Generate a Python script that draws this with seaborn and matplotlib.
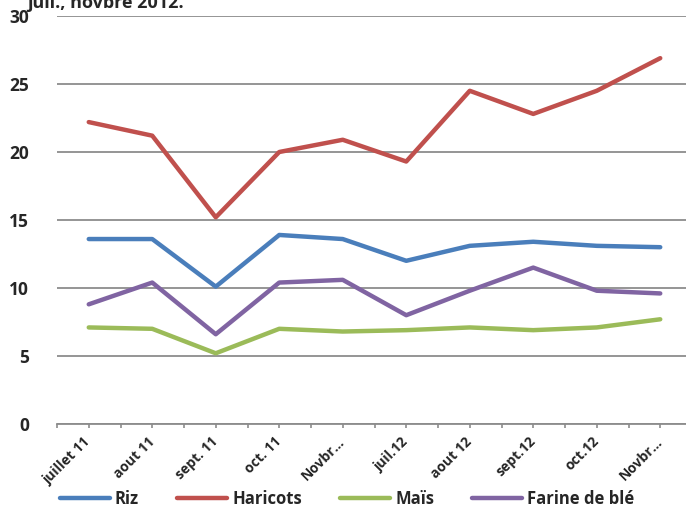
import matplotlib
matplotlib.use("Agg")
from matplotlib import pyplot as plt
from matplotlib.ticker import MultipleLocator
import pandas as pd
import seaborn as sns

months = ['juillet 11', 'aout 11', 'sept. 11', 'oct. 11', 'Novbr...',
          'juil.12', 'aout 12', 'sept.12', 'oct.12', 'Novbr...']
riz = [13.6, 13.6, 10.1, 13.9, 13.6, 12.0, 13.1, 13.4, 13.1, 13.0]
haricots = [22.2, 21.2, 15.2, 20.0, 20.9, 19.3, 24.5, 22.8, 24.5, 26.9]
mais = [7.1, 7.0, 5.2, 7.0, 6.8, 6.9, 7.1, 6.9, 7.1, 7.7]
farine = [8.8, 10.4, 6.6, 10.4, 10.6, 8.0, 9.8, 11.5, 9.8, 9.6]

series = {'Riz': riz, 'Haricots': haricots, 'Maïs': mais, 'Farine de blé': farine}
colors = ['#4A7EBB', '#C0504D', '#9BBB59', '#8064A2']

rows = []
for name, vals in series.items():
    for i, v in enumerate(vals):
        rows.append([i, name, v])
df = pd.DataFrame(rows, columns=['pos', 'produit', 'prix'])

sns.set_style('white')
plt.rcParams['font.family'] = ['Open Sans', 'DejaVu Sans']
plt.rcParams['font.weight'] = 'bold'

fig = plt.figure(figsize=(6.86, 5.12), dpi=100)
ax = fig.add_axes([57 / 686, 88 / 512, 635 / 686, 408 / 512])

sns.lineplot(data=df, x='pos', y='prix', hue='produit', palette=colors,
             linewidth=3.2, ax=ax, legend=False)

ax.set_xlim(-0.5, 9.5)
ax.set_ylim(0, 30)
ax.set_yticks(range(0, 31, 5))
ax.yaxis.grid(True, color='#8c8c8c', linewidth=1.3)
ax.set_axisbelow(True)
for s in ['top', 'right', 'left']:
    ax.spines[s].set_visible(False)
ax.spines['bottom'].set_color('#8c8c8c')
ax.spines['bottom'].set_linewidth(1.3)

ax.set_xticks(range(len(months)))
ax.set_xticklabels(months, rotation=45, ha='right', va='center',
                   rotation_mode='anchor', fontsize=10, fontweight='bold')
ax.xaxis.set_minor_locator(MultipleLocator(0.5))
ax.tick_params(axis='x', which='both', bottom=True, length=3, width=1.2,
               color='#8c8c8c', direction='out')
ax.tick_params(axis='x', which='major', pad=8)
ax.tick_params(axis='y', length=0, pad=20, labelsize=12.5)
for t in ax.get_yticklabels():
    t.set_fontweight('bold')
ax.set_xlabel('')
ax.set_ylabel('')

handles = [plt.Line2D([], [], color=c, linewidth=3.2) for c in colors]
fig.legend(handles, list(series.keys()), loc='center', ncol=4,
           bbox_to_anchor=(0.506, 13 / 512), frameon=False, handlelength=3.0,
           columnspacing=2.3, handletextpad=0.3,
           prop={'size': 12, 'weight': 'bold'})

fig.text(27 / 686, 1.012, 'juil., novbre 2012.', fontsize=13,
         fontweight='bold', va='top', ha='left')

fig.savefig('out.png', dpi=100)
